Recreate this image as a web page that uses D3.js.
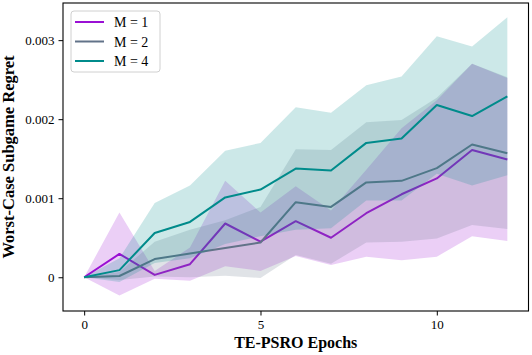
<!DOCTYPE html>
<html>
<head>
<meta charset="utf-8">
<script src="https://cdn.jsdelivr.net/npm/d3@7"></script>
<style>
  body { margin: 0; background: #fff; }
  svg { display: block; }
  text { font-family: "Liberation Serif", "DejaVu Serif", serif; }
</style>
</head>
<body>
<svg id="chart"></svg>
<script>
// values are in units of 1e-3 (regret)
const epochs = [0, 1, 2, 3, 4, 5, 6, 7, 8, 9, 10, 11, 12];
const seriesNames = ["M = 1", "M = 2", "M = 4"];
const meanM1 = [0, 0.295, 0.03, 0.165, 0.68, 0.45, 0.71, 0.50, 0.81, 1.05, 1.25, 1.61, 1.49];
const spreadM1 = [0, 0.525, 0.05, 0.21, 0.54, 0.37, 0.44, 0.345, 0.55, 0.835, 0.99, 1.09, 1.03];
const meanM2 = [0, 0.016, 0.23, 0.30, 0.37, 0.44, 0.95, 0.89, 1.20, 1.22, 1.38, 1.68, 1.57];
const spreadM2 = [0, 0.05, 0.22, 0.30, 0.35, 0.45, 0.67, 0.72, 0.76, 0.77, 0.89, 1.02, 0.96];
const meanM4 = [0, 0.09, 0.56, 0.70, 1.01, 1.11, 1.375, 1.35, 1.70, 1.755, 2.18, 2.04, 2.29];
const spreadM4 = [0, 0.15, 0.38, 0.46, 0.59, 0.59, 0.775, 0.73, 0.73, 0.785, 0.87, 0.88, 1.0];
const xTicks = [0, 5, 10];
const yTicks = [0, 1, 2, 3];
const yTickLabels = ["0", "0.001", "0.002", "0.003"];
const colors = ["#9a10d4", "#627389", "#008b8b"];

const width = 532, height = 355;
const margin = {left: 63, right: 3.5, top: 3, bottom: 44};
const plotWidth = width - margin.left - margin.right;
const plotHeight = height - margin.top - margin.bottom;

let svg = d3.select('#chart').attr('width', width).attr('height', height);
let plot = svg.append('g').attr('transform', `translate(${margin.left},${margin.top})`);

let xScale = d3.scaleLinear().domain([-0.6, 12.6]).range([0, plotWidth]);
let yScale = d3.scaleLinear().domain([-0.427, 3.47]).range([plotHeight, 0]);

const series = [
  {name: seriesNames[0], mean: meanM1, spread: spreadM1, color: colors[0]},
  {name: seriesNames[1], mean: meanM2, spread: spreadM2, color: colors[1]},
  {name: seriesNames[2], mean: meanM4, spread: spreadM4, color: colors[2]}
];

let line = d3.line()
  .x((d, i) => xScale(epochs[i]))
  .y(d => yScale(d));
let area = d3.area()
  .x(d => xScale(d.x))
  .y0(d => yScale(d.m - d.s))
  .y1(d => yScale(d.m + d.s));

series.forEach(function(s) {
  plot.append('path')
    .attr('d', line(s.mean))
    .attr('fill', 'none')
    .attr('stroke', s.color)
    .attr('stroke-width', 2)
    .attr('stroke-linejoin', 'round');
  let pts = epochs.map((x, i) => ({x: x, m: s.mean[i], s: s.spread[i]}));
  plot.append('path')
    .attr('d', area(pts))
    .attr('fill', s.color)
    .attr('fill-opacity', 0.2);
});

// axes
let xAxis = plot.append('g')
  .attr('transform', `translate(0,${plotHeight})`)
  .call(d3.axisBottom(xScale).tickValues(xTicks).tickSize(4.5).tickPadding(4).tickFormat(d3.format('d')));
let yAxis = plot.append('g')
  .call(d3.axisLeft(yScale).tickValues(yTicks).tickSize(4.5).tickPadding(4).tickFormat((d, i) => yTickLabels[i]));
[xAxis, yAxis].forEach(function(ax) {
  ax.select('.domain').remove();
  ax.selectAll('line').attr('stroke', '#000').attr('stroke-width', 1);
  ax.selectAll('text')
    .style('font-family', '"Liberation Serif", serif')
    .style('font-size', '13px')
    .attr('fill', '#000');
});

// frame
plot.append('rect')
  .attr('x', 0).attr('y', 0)
  .attr('width', plotWidth).attr('height', plotHeight)
  .attr('fill', 'none')
  .attr('stroke', '#000')
  .attr('stroke-width', 1.1);

// axis labels
svg.append('text')
  .attr('x', margin.left + plotWidth / 2)
  .attr('y', 348)
  .attr('text-anchor', 'middle')
  .style('font-size', '16px')
  .style('font-weight', 'bold')
  .text('TE-PSRO Epochs');
svg.append('text')
  .attr('transform', `translate(14,${margin.top + plotHeight / 2}) rotate(-90)`)
  .attr('text-anchor', 'middle')
  .style('font-size', '16.5px')
  .style('font-weight', 'bold')
  .text('Worst-Case Subgame Regret');

// legend
let legend = plot.append('g').attr('transform', 'translate(8,8)');
legend.append('rect')
  .attr('width', 89).attr('height', 61)
  .attr('rx', 3)
  .attr('fill', '#fff').attr('fill-opacity', 0.8)
  .attr('stroke', '#d0d0d0');
series.forEach(function(s, i) {
  let row = legend.append('g').attr('transform', `translate(0,${11 + i * 19.5})`);
  row.append('line')
    .attr('x1', 4).attr('x2', 33)
    .attr('stroke', s.color).attr('stroke-width', 2);
  row.append('text')
    .attr('x', 43).attr('y', 5)
    .style('font-size', '14px')
    .text(s.name);
});
</script>
</body>
</html>
